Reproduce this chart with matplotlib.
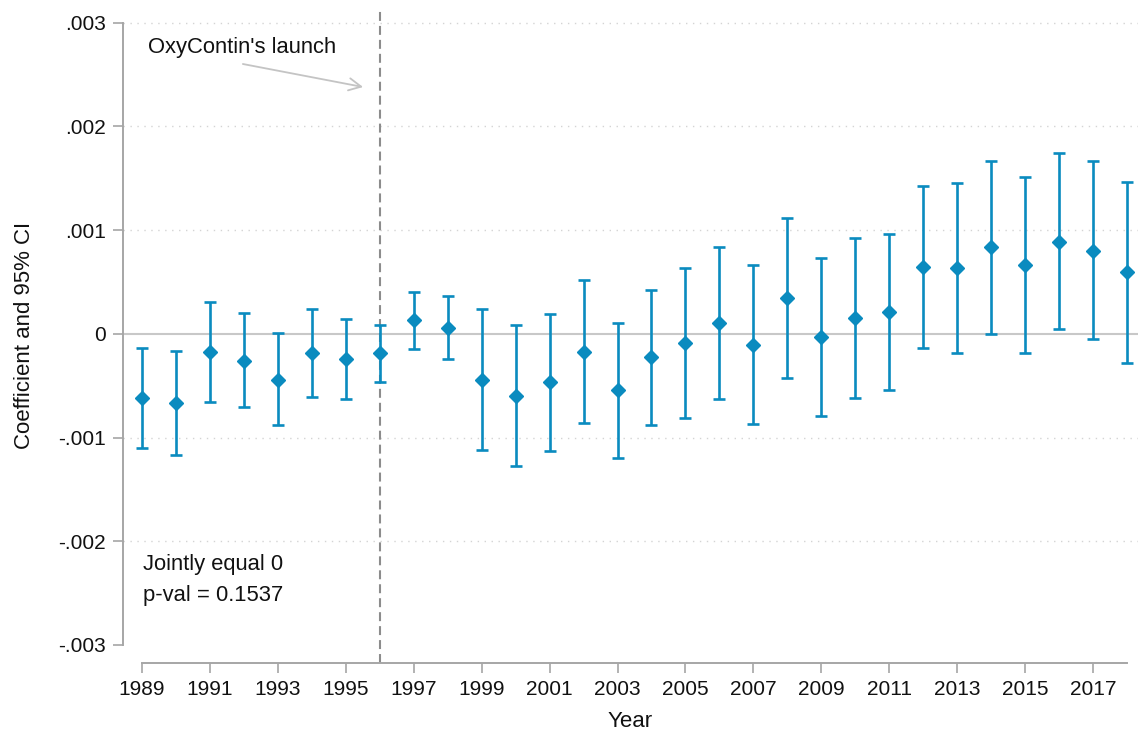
import matplotlib
matplotlib.use("Agg")
import matplotlib.pyplot as plt
import numpy as np

# event-study coefficients
years = list(range(1989, 2019))
coef = [-0.62, -0.67, -0.176, -0.259, -0.446, -0.186, -0.243, -0.189, 0.133, 0.059,
        -0.446, -0.597, -0.465, -0.173, -0.545, -0.227, -0.089, 0.100, -0.107, 0.345,
        -0.034, 0.152, 0.210, 0.643, 0.631, 0.833, 0.660, 0.887, 0.800, 0.592]
ci_hi = [-0.134, -0.166, 0.309, 0.197, 0.004, 0.242, 0.139, 0.088, 0.406, 0.361,
         0.235, 0.084, 0.194, 0.518, 0.100, 0.425, 0.636, 0.839, 0.663, 1.119,
         0.727, 0.926, 0.964, 1.421, 1.453, 1.668, 1.508, 1.739, 1.665, 1.463]
ci_lo = [-1.104, -1.172, -0.658, -0.709, -0.883, -0.613, -0.626, -0.468, -0.144, -0.240,
         -1.117, -1.278, -1.127, -0.863, -1.198, -0.880, -0.809, -0.632, -0.873, -0.430,
         -0.793, -0.619, -0.545, -0.137, -0.189, -0.002, -0.189, 0.043, -0.053, -0.279]

xtick_years = list(range(1989, 2018, 2))
ytick_vals = [-0.003, -0.002, -0.001, 0, 0.001, 0.002, 0.003]
ytick_labels = ["-.003", "-.002", "-.001", "0", ".001", ".002", ".003"]
launch_year = 1996

plt.rcParams['font.family'] = ['Liberation Sans', 'DejaVu Sans']
blue = '#0a8bbf'
gray_axis = '#a6a6a6'
txt = '#111111'

x = np.array(years)
y = np.array(coef) * 1e-3
hi = np.array(ci_hi) * 1e-3
lo = np.array(ci_lo) * 1e-3

fig = plt.figure(figsize=(11.4, 7.35), dpi=100)
ax = fig.add_axes([123/1140, 72/735, (1138-123)/1140, (663-8)/735])

# grid + zero line
for v in [-0.002, -0.001, 0.001, 0.002, 0.003]:
    ax.axhline(v, color='#d4d4d4', lw=1.0, ls=(0, (1, 4)), zorder=0)
ax.axhline(0, color='#c8c8c8', lw=1.5, zorder=1)

# launch line
ax.axvline(launch_year, color='#8c8c8c', lw=1.5, dashes=(4.3, 2.4), zorder=1)

ax.errorbar(x, y, yerr=[y - lo, hi - y], fmt='D', color=blue, ms=7,
            mec=blue, ecolor=blue, elinewidth=1.9, capsize=4.3, capthick=1.9, zorder=3)

ax.set_xlim(1989 - 19/33.96, 2018 + 11/33.96)
ax.set_ylim((333.75-663)/103.75*1e-3, (333.75-8)/103.75*1e-3)

ax.set_xticks(xtick_years)
ax.set_yticks(ytick_vals)
ax.set_yticklabels(ytick_labels)

for s in ['top', 'right']:
    ax.spines[s].set_visible(False)
ax.spines['left'].set_bounds(-0.003, 0.003)
ax.spines['bottom'].set_bounds(1989, 2018)
for s in ['left', 'bottom']:
    ax.spines[s].set_color(gray_axis)
    ax.spines[s].set_linewidth(1.4)
ax.tick_params(axis='both', colors=gray_axis, length=7.2, width=1.2, pad=5,
               labelsize=15, labelcolor=txt)

ax.set_xlabel("Year", fontsize=16, labelpad=9, color=txt)
ax.set_ylabel("Coefficient and 95% CI", fontsize=16, labelpad=17, color=txt)

# annotations
ax.annotate("", xy=(1995.51, 0.002378), xytext=(1991.97, 0.0026),
            arrowprops=dict(arrowstyle='->', color='#c4c4c4', lw=1.3,
                            mutation_scale=22, shrinkA=0, shrinkB=0))
ax.text(1989.18, 0.002709, "OxyContin's launch", fontsize=15.8, ha='left',
        va='baseline', color=txt)
ax.text(1989.03, -0.002277, "Jointly equal 0", fontsize=15.8, ha='left',
        va='baseline', color=txt)
ax.text(1989.03, -0.002576, "p-val = 0.1537", fontsize=15.8, ha='left',
        va='baseline', color=txt)

fig.savefig("out.png", dpi=100)
